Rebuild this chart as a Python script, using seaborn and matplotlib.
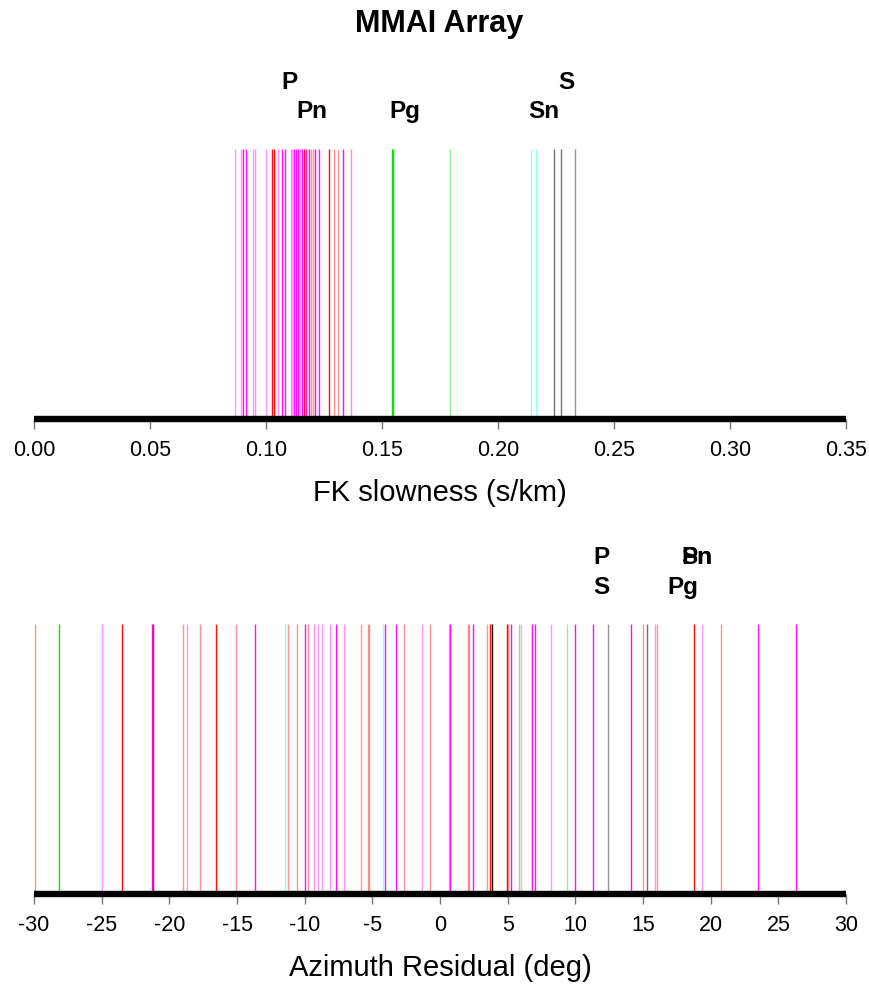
import matplotlib
matplotlib.use("Agg")
import matplotlib.pyplot as plt
import seaborn as sns
import pandas as pd

# FK slowness (s/km) of each detection, by phase; "s" = strong, "l" = light
slow_P = [0.0866, 0.0892, 0.0901, 0.0914, 0.0944, 0.0953, 0.1000, 0.1052, 0.1069, 0.1082,
          0.1108, 0.1112, 0.1121, 0.1129, 0.1138, 0.1147, 0.1155, 0.1172, 0.1185, 0.1211,
          0.1228, 0.1332]
slow_P_w = ["l", "l", "s", "s", "l", "l", "l", "l", "s", "s",
            "l", "l", "s", "s", "s", "l", "s", "s", "s", "s",
            "s", "s"]
slow_Pn = [0.1026, 0.1034, 0.1164, 0.1194, 0.1203, 0.1272, 0.1293, 0.1310, 0.1366]
slow_Pn_w = ["s", "s", "s", "l", "l", "s", "l", "l", "l"]
slow_Pg = [0.1543, 0.1546, 0.1793]
slow_Pg_w = ["s", "s", "l"]
slow_Sn = [0.2142, 0.2164]
slow_Sn_w = ["l", "l"]
slow_S = [0.2240, 0.2272, 0.2332]
slow_S_w = ["m", "m", "l"]

# Azimuth residual (deg) of each detection, by phase
az_P = [-25.0, -21.3, -18.7, -13.67, -9.99, -9.33, -9.03, -8.69, -8.1, -7.7,
        -7.09, -4.1, -3.24, -1.35, 0.65, 0.75, 2.42, 5.25, 5.87, 6.83,
        7.0, 8.19, 10.0, 11.29, 14.1, 15.9, 19.39, 23.49, 26.34]
az_P_w = ["l", "s", "l", "s", "s", "l", "l", "l", "l", "s",
          "l", "s", "s", "l", "l", "s", "s", "s", "l", "s",
          "s", "l", "s", "s", "s", "l", "l", "s", "s"]
az_Pn = [-29.9, -23.47, -21.18, -19.0, -17.7, -16.53, -15.1, -11.25, -10.58, -9.75,
         -5.83, -5.34, -5.22, -2.63, -0.75, 2.1, 2.17, 3.46, 3.72, 4.96,
         5.05, 14.99, 16.02, 18.8, 20.78]
az_Pn_w = ["l", "s", "s", "l", "l", "s", "l", "l", "l", "l",
           "l", "l", "l", "l", "l", "l", "l", "l", "s", "s",
           "l", "l", "l", "s", "l"]
az_Pg = [-28.13, 5.97, 9.37]
az_Pg_w = ["s", "l", "l"]
az_Sn = [-11.47, -4.2]
az_Sn_w = ["l", "l"]
az_S = [3.87, 12.45, 15.29]
az_S_w = ["s", "l", "m"]

phases = ["P", "Pn", "Pg", "Sn", "S"]
phase_colors = {"P": "#FF00FF", "Pn": "#FF0000", "Pg": "#00E000",
                "Sn": "#00FFFF", "S": "#000000"}
strength_alpha = {"s": 0.95, "m": 0.55, "l": 0.42}

slow_ticks = [0.00, 0.05, 0.10, 0.15, 0.20, 0.25, 0.30, 0.35]
slow_ticklabels = ["0.00", "0.05", "0.10", "0.15", "0.20", "0.25", "0.30", "0.35"]
az_ticks = [-30, -25, -20, -15, -10, -5, 0, 5, 10, 15, 20, 25, 30]
az_ticklabels = ["-30", "-25", "-20", "-15", "-10", "-5", "0", "5", "10", "15", "20", "25", "30"]


def make_frame(values, weights):
    rows = []
    for ph in phases:
        for v, w in zip(values[ph], weights[ph]):
            rows.append({"value": v, "phase": ph, "weight": w})
    return pd.DataFrame(rows)


slow_df = make_frame(
    {"P": slow_P, "Pn": slow_Pn, "Pg": slow_Pg, "Sn": slow_Sn, "S": slow_S},
    {"P": slow_P_w, "Pn": slow_Pn_w, "Pg": slow_Pg_w, "Sn": slow_Sn_w, "S": slow_S_w},
)
az_df = make_frame(
    {"P": az_P, "Pn": az_Pn, "Pg": az_Pg, "Sn": az_Sn, "S": az_S},
    {"P": az_P_w, "Pn": az_Pn_w, "Pg": az_Pg_w, "Sn": az_Sn_w, "S": az_S_w},
)

sns.set_theme(style="white")
plt.rcParams["font.family"] = ["Liberation Sans", "DejaVu Sans"]
plt.rcParams["axes.unicode_minus"] = False
plt.rcParams["text.color"] = "black"
plt.rcParams["axes.labelcolor"] = "black"
plt.rcParams["xtick.color"] = "black"

fig = plt.figure(figsize=(8.7, 9.87), dpi=100)
ax_top = fig.add_axes([0.0391, 0.5745, 0.9333, 0.3546])
ax_bot = fig.add_axes([0.0391, 0.0932, 0.9333, 0.3546])

LINE_H = 0.771


def draw_panel(ax, df, xlim, ticks, ticklabels, xlabel):
    for w, alpha in strength_alpha.items():
        sub = df[df["weight"] == w]
        if sub.empty:
            continue
        sns.rugplot(data=sub, x="value", hue="phase", palette=phase_colors,
                    hue_order=phases, height=LINE_H, lw=1.7, alpha=alpha,
                    expand_margins=False, legend=False, ax=ax)
    ax.set_xlim(*xlim)
    ax.set_ylim(0, 1)
    ax.set_yticks([])
    ax.set_xticks(ticks)
    ax.set_xticklabels(ticklabels, fontsize=15.5, color="black")
    ax.set_xlabel(xlabel, fontsize=21, labelpad=13, color="black")
    for side in ["top", "left", "right"]:
        ax.spines[side].set_visible(False)
    ax.spines["bottom"].set_linewidth(4.6)
    ax.spines["bottom"].set_color("black")
    ax.spines["bottom"].set_capstyle("butt")
    ax.tick_params(axis="x", bottom=True, length=7.5, width=1.0, color="#777777",
                   pad=7, labelcolor="black")
    ax.set_facecolor("white")


draw_panel(ax_top, slow_df, (0.0, 0.35), slow_ticks, slow_ticklabels, "FK slowness (s/km)")
draw_panel(ax_bot, az_df, (-30, 30), az_ticks, az_ticklabels, "Azimuth Residual (deg)")

ROW1, ROW2 = 0.965, 0.88
label_kw = dict(fontsize=17.5, fontweight="bold", ha="center", va="center", color="black")

# phase labels, slowness panel
ax_top.text(0.1099, ROW1, "P", transform=ax_top.get_xaxis_transform(), **label_kw)
ax_top.text(0.1198, ROW2, "Pn", transform=ax_top.get_xaxis_transform(), **label_kw)
ax_top.text(0.1599, ROW2, "Pg", transform=ax_top.get_xaxis_transform(), **label_kw)
ax_top.text(0.2198, ROW2, "Sn", transform=ax_top.get_xaxis_transform(), **label_kw)
ax_top.text(0.2297, ROW1, "S", transform=ax_top.get_xaxis_transform(), **label_kw)

# phase labels, azimuth panel
ax_bot.text(11.9, ROW1, "P", transform=ax_bot.get_xaxis_transform(), **label_kw)
ax_bot.text(11.9, ROW2, "S", transform=ax_bot.get_xaxis_transform(), **label_kw)
ax_bot.text(19.0, ROW1, "Pn", transform=ax_bot.get_xaxis_transform(), **label_kw)
ax_bot.text(19.0, ROW1, "Sn", transform=ax_bot.get_xaxis_transform(), **label_kw)
ax_bot.text(17.97, ROW2, "Pg", transform=ax_bot.get_xaxis_transform(), **label_kw)

fig.text(0.505, 0.976, "MMAI Array", fontsize=22, fontweight="bold",
         ha="center", va="center", color="black")

fig.savefig("out.png", dpi=100, facecolor="white")
